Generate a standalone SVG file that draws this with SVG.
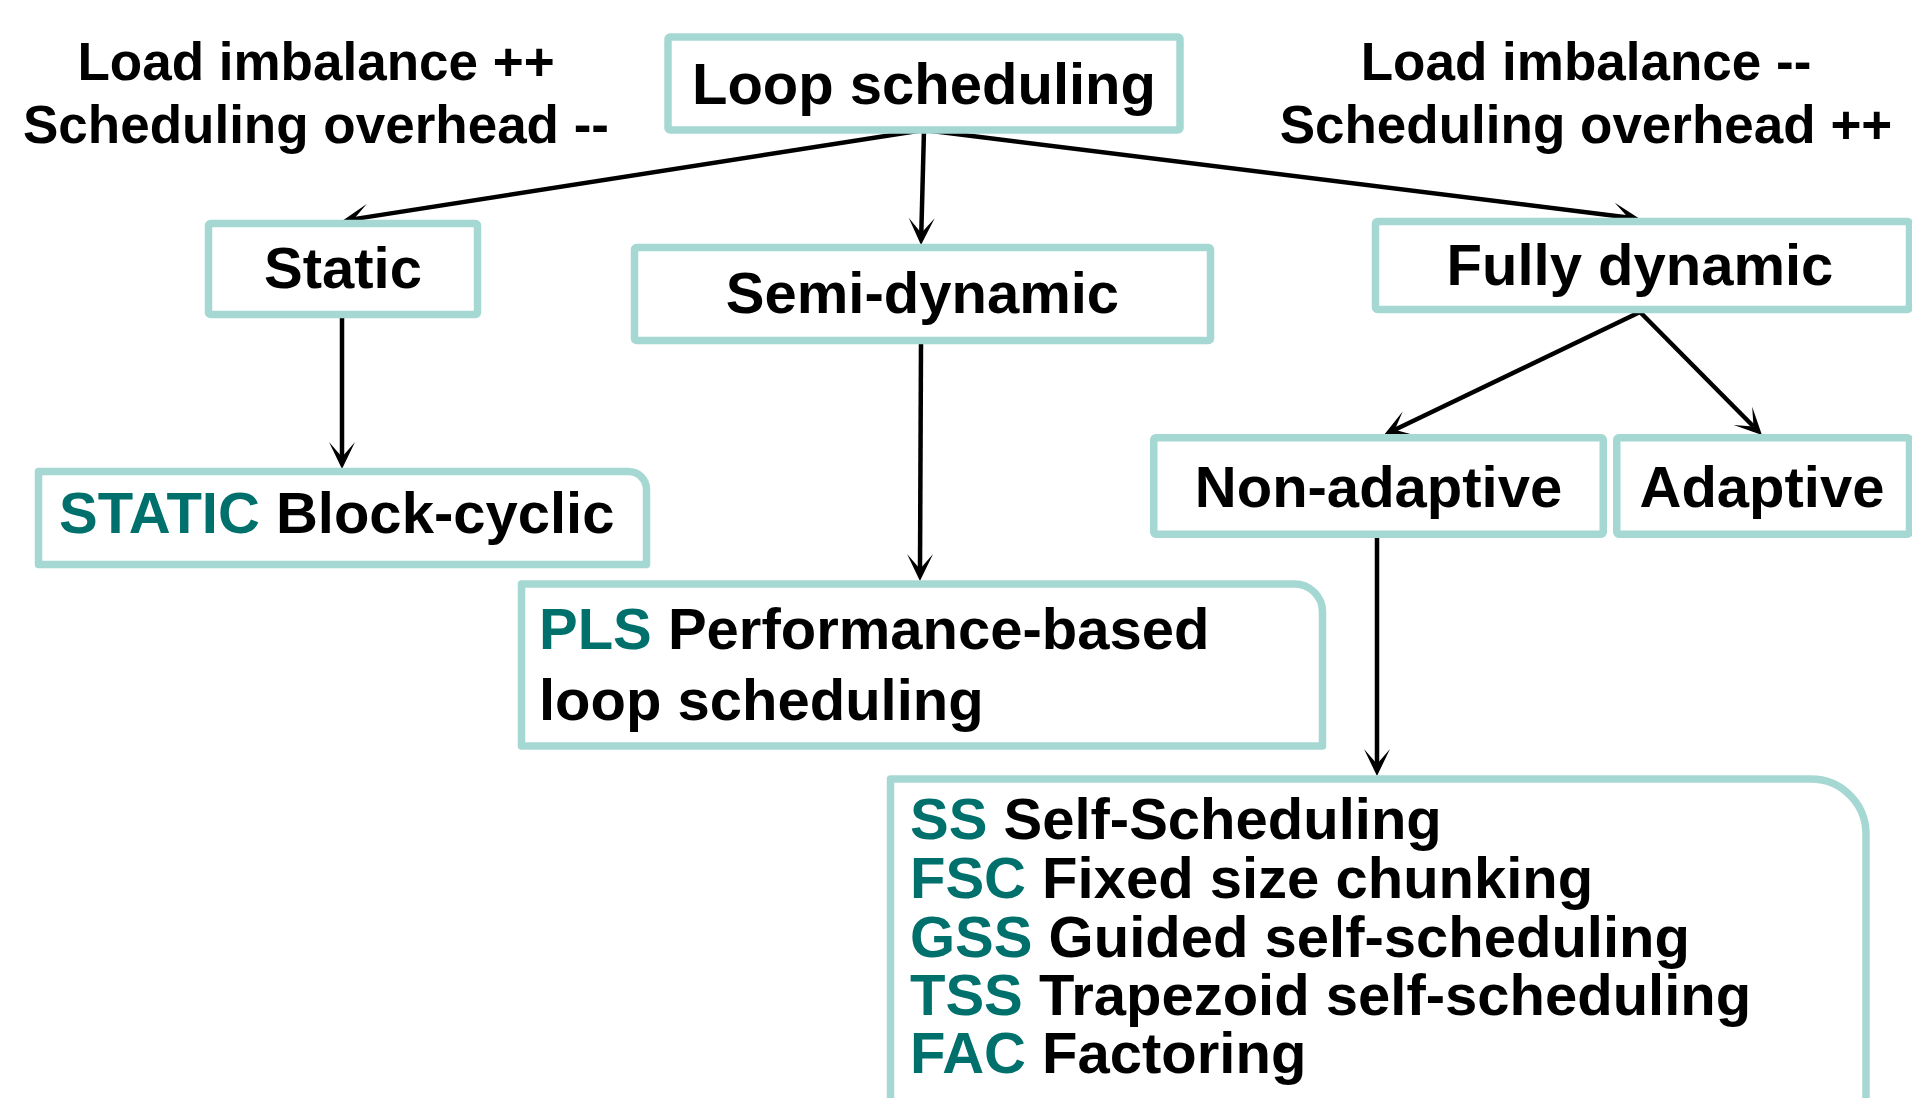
<svg xmlns="http://www.w3.org/2000/svg" width="1912" height="1098" viewBox="0 0 1912 1098">
<style>
.box{fill:#ffffff;stroke:#a6d8d3;stroke-width:7.5;stroke-linejoin:round}
.t{font-family:"Liberation Sans",Arial,sans-serif;font-weight:bold;fill:#000000}
.lbl{font-size:58px;text-anchor:middle}
.side{font-size:53px;text-anchor:middle}
.item{font-size:58px}
.abbr{fill:#00706c}
.conn{stroke:#000000;stroke-width:4.5;fill:none}
</style>
<defs>
<marker id="arr" markerUnits="userSpaceOnUse" markerWidth="40" markerHeight="40" viewBox="-20 -20 40 40" refX="0" refY="0" orient="auto">
<path d="M-15,-13 L12,0 L-15,13 L0,0 Z" fill="#000000"/>
</marker>
</defs>
<rect width="1912" height="1098" fill="#ffffff"/>

<g id="side-left">
<text class="t side" x="316" y="80">Load imbalance ++</text>
<text class="t side" x="316" y="143">Scheduling overhead --</text>
</g>
<g id="side-right">
<text class="t side" x="1586" y="80">Load imbalance --</text>
<text class="t side" x="1586" y="143">Scheduling overhead ++</text>
</g>

<g id="connectors">
<line class="conn" x1="924" y1="130" x2="353.9" y2="219.1" marker-end="url(#arr)"/>
<line class="conn" x1="924" y1="130" x2="921.3" y2="233" marker-end="url(#arr)"/>
<line class="conn" x1="924" y1="130" x2="1628.1" y2="217.5" marker-end="url(#arr)"/>
<line class="conn" x1="342" y1="316" x2="342" y2="457" marker-end="url(#arr)"/>
<line class="conn" x1="921" y1="343" x2="920" y2="569" marker-end="url(#arr)"/>
<line class="conn" x1="1640" y1="312" x2="1394.8" y2="429.8" marker-end="url(#arr)"/>
<line class="conn" x1="1640" y1="312" x2="1753.5" y2="426.5" marker-end="url(#arr)"/>
<line class="conn" x1="1377" y1="538" x2="1377" y2="764" marker-end="url(#arr)"/>
</g>

<g id="loop-scheduling">
<rect class="box" x="668" y="37" width="512" height="93" rx="2"/>
<text class="t lbl" x="924" y="104">Loop scheduling</text>
</g>
<g id="static">
<rect class="box" x="208.5" y="223.5" width="269" height="91" rx="2"/>
<text class="t lbl" x="343" y="288">Static</text>
</g>
<g id="semi-dynamic">
<rect class="box" x="634.5" y="247.5" width="576" height="93" rx="2"/>
<text class="t lbl" x="922.5" y="313">Semi-dynamic</text>
</g>
<g id="fully-dynamic">
<rect class="box" x="1375.5" y="221.5" width="534" height="88" rx="2"/>
<text class="t lbl" x="1640" y="285">Fully dynamic</text>
</g>
<g id="non-adaptive">
<rect class="box" x="1153.75" y="437.75" width="449.5" height="96.5" rx="2"/>
<text class="t lbl" x="1378.5" y="507">Non-adaptive</text>
</g>
<g id="adaptive">
<rect class="box" x="1616.75" y="437.75" width="292.75" height="96.5" rx="2"/>
<text class="t lbl" x="1762" y="507">Adaptive</text>
</g>
<g id="static-block-cyclic">
<path class="box" d="M38.5,471.5 H628.5 A18,18 0 0 1 646.5,489.5 V564.5 H38.5 Z"/>
<text class="t item" x="59" y="533"><tspan class="abbr">STATIC</tspan> Block-cyclic</text>
</g>
<g id="pls">
<path class="box" d="M521.5,584 H1294.5 A28,28 0 0 1 1322.5,612 V746 H521.5 Z"/>
<text class="t item" x="539" y="649"><tspan class="abbr">PLS</tspan> Performance-based</text>
<text class="t item" x="539" y="720">loop scheduling</text>
</g>
<g id="non-adaptive-list">
<path class="box" d="M890.5,779 H1811 A55,55 0 0 1 1866,834 V1160 H890.5 Z"/>
<text class="t item" x="910" y="839"><tspan class="abbr">SS</tspan> Self-Scheduling</text>
<text class="t item" x="910" y="898"><tspan class="abbr">FSC</tspan> Fixed size chunking</text>
<text class="t item" x="910" y="957"><tspan class="abbr">GSS</tspan> Guided self-scheduling</text>
<text class="t item" x="910" y="1015"><tspan class="abbr">TSS</tspan> Trapezoid self-scheduling</text>
<text class="t item" x="910" y="1073"><tspan class="abbr">FAC</tspan> Factoring</text>
</g>
</svg>
